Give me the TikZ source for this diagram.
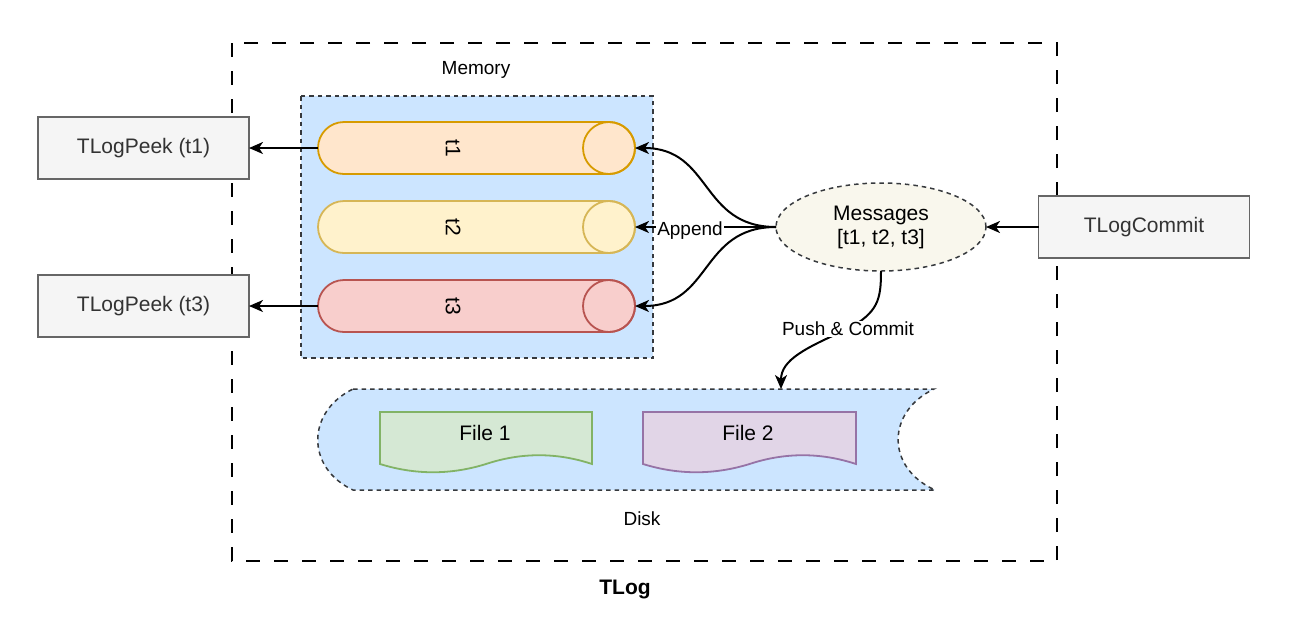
\documentclass[tikz,border=0pt]{standalone}
\usepackage{fontspec}
\setmainfont{Liberation Sans}
\usetikzlibrary{arrows.meta,shapes.geometric,calc}
\definecolor{memfill}{HTML}{CCE5FF}
\definecolor{darkline}{HTML}{36393D}
\definecolor{o1f}{HTML}{FFE6CC}\definecolor{o1d}{HTML}{D79B00}
\definecolor{o2f}{HTML}{FFF2CC}\definecolor{o2d}{HTML}{D6B656}
\definecolor{o3f}{HTML}{F8CECC}\definecolor{o3d}{HTML}{B85450}
\definecolor{g1f}{HTML}{D5E8D4}\definecolor{g1d}{HTML}{82B366}
\definecolor{p1f}{HTML}{E1D5E7}\definecolor{p1d}{HTML}{9673A6}
\definecolor{msgfill}{HTML}{F9F7ED}
\definecolor{boxfill}{HTML}{F5F5F5}\definecolor{boxline}{HTML}{666666}
\definecolor{boxtext}{HTML}{333333}
\tikzset{
  bigfont/.style={font=\fontsize{21}{24}\selectfont},
  smallfont/.style={font=\fontsize{19}{22}\selectfont},
  grey box/.style={draw=boxline, fill=boxfill, line width=1.5, text=boxtext, bigfont,
    minimum width=211, minimum height=62, inner sep=0, outer sep=0},
  finedash/.style={dash pattern=on 4.5 off 4, line width=1.5, draw=darkline},
  arr/.style={line width=2, -{Stealth[length=14pt,width=12pt,inset=4pt]}},
  cylslot/.style={minimum width=317, minimum height=52, inner sep=0, outer sep=0},
  cyllabel/.style={bigfont, rotate=-90, inner sep=0},
}
\begin{document}
\begin{tikzpicture}[x=1pt,y=-1pt]
\useasboundingbox (0,0) rectangle (1295,641);
% outer TLog frame
\draw[line width=2, dash pattern=on 14 off 14] (232,43) rectangle (1057,561);
\node[font=\fontsize{21}{24}\selectfont\bfseries] (tlog) at (625,589) {TLog};
% memory
\node[smallfont] (memlbl) at (476,70) {Memory};
\filldraw[fill=memfill, finedash] (301,96) rectangle (653,358);
% cylinders
\node[cylslot] (c1) at (476.5,148) {};
\node[cylslot] (c2) at (476.5,227) {};
\node[cylslot] (c3) at (476.5,306) {};
\filldraw[fill=o1f, draw=o1d, line width=1.8] (344,122) -- (609,122) arc[start angle=-90, end angle=90, radius=26] -- (344,174) arc[start angle=90, end angle=270, radius=26] -- cycle;
\draw[draw=o1d, line width=1.8] (609,148) circle[radius=26];
\filldraw[fill=o2f, draw=o2d, line width=1.8] (344,201) -- (609,201) arc[start angle=-90, end angle=90, radius=26] -- (344,253) arc[start angle=90, end angle=270, radius=26] -- cycle;
\draw[draw=o2d, line width=1.8] (609,227) circle[radius=26];
\filldraw[fill=o3f, draw=o3d, line width=1.8] (344,280) -- (609,280) arc[start angle=-90, end angle=90, radius=26] -- (344,332) arc[start angle=90, end angle=270, radius=26] -- cycle;
\draw[draw=o3d, line width=1.8] (609,306) circle[radius=26];
\node[cyllabel] (l1) at (453,148) {t1};
\node[cyllabel] (l2) at (453,227) {t2};
\node[cyllabel] (l3) at (453,306) {t3};
% disk
\filldraw[fill=memfill, finedash] (353,389) -- (934,389)
  .. controls (886,412) and (886,468) .. (935,490) -- (353,490)
  .. controls (306,468) and (306,412) .. cycle;
\coordinate (disktop) at (781,389);
\node[smallfont] (disklbl) at (642,519) {Disk};
% files
\filldraw[fill=g1f, draw=g1d, line width=1.8] (380,412) -- (592,412) -- (592,464)
  .. controls (556.7,452.3) and (521.3,452.3) .. (486,464)
  .. controls (450.7,475) and (415.3,475) .. (380,464) -- cycle;
\node[bigfont] (f1) at (485,433) {File 1};
\filldraw[fill=p1f, draw=p1d, line width=1.8] (643,412) -- (856,412) -- (856,464)
  .. controls (820.5,452.3) and (785,452.3) .. (749.5,464)
  .. controls (714,475) and (678.5,475) .. (643,464) -- cycle;
\node[bigfont] (f2) at (748,433) {File 2};
% messages
\node[ellipse, fill=msgfill, finedash, minimum width=210, minimum height=88, inner sep=0, outer sep=0,
  bigfont, align=center] (msg) at (881,227) {Messages\\{[t1, t2, t3]}};
% boxes
\node[grey box] (p1) at (143.5,148) {TLogPeek (t1)};
\node[grey box] (p3) at (143.5,306) {TLogPeek (t3)};
\node[grey box] (commit) at (1144,227) {TLogCommit};
% connectors
\draw[arr] (c1.west) -- (p1.east);
\draw[arr] (c3.west) -- (p3.east);
\draw[arr] (commit.west) -- (msg.east);
\draw[arr] (msg.west) .. controls (700,227) and (712,148) .. (c1.east);
\draw[arr] (msg.west) .. controls (700,227) and (712,306) .. (c3.east);
\draw[arr] (msg.west) -- (c2.east);
\node[smallfont, fill=white, inner sep=1] (app) at (690,231) {Append};
\draw[arr] (msg.south) .. controls (881,300) and (878,312) .. (848,329)
  .. controls (805,348) and (781,360) .. (disktop);
\node[smallfont, fill=white, inner sep=1] (pc) at (848,329) {Push \& Commit};
\end{tikzpicture}
\end{document}
